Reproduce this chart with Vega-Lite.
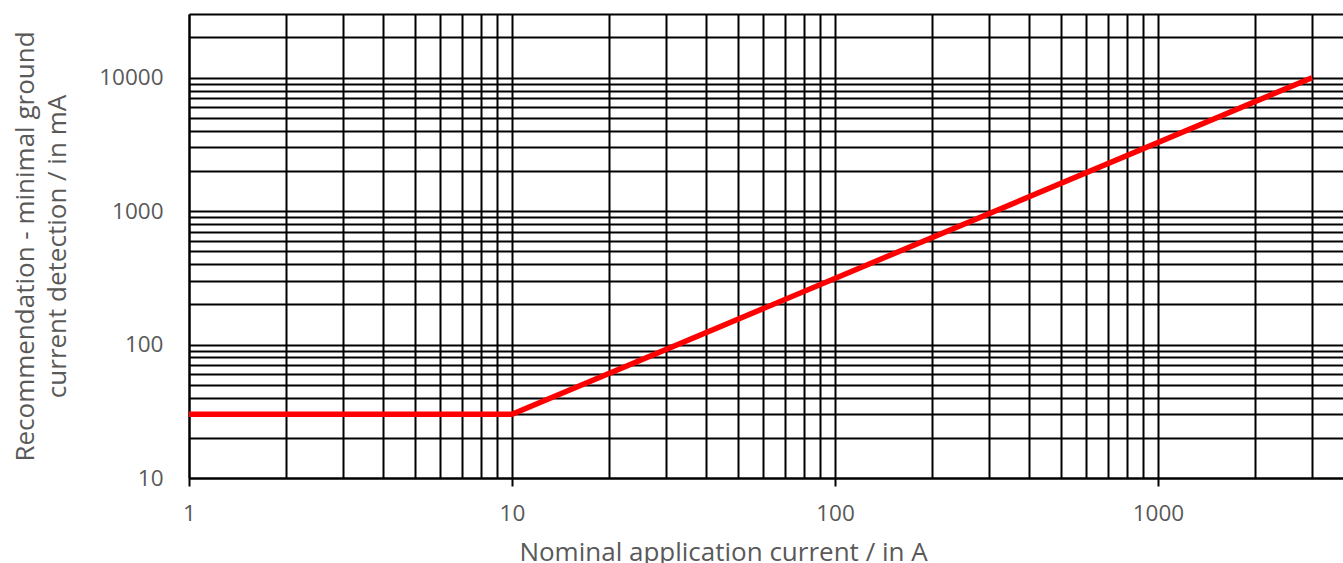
{
  "$schema": "https://vega.github.io/schema/vega-lite/v6.json",
  "width": 1154,
  "height": 464,
  "autosize": "none",
  "padding": {"left": 189, "top": 14, "right": 0, "bottom": 85},
  "background": "white",
  "config": {"view": {"stroke": null}, "font": "Open Sans"},
  "data": {"values": [
    {"current": 1, "detection": 30},
    {"current": 10, "detection": 30},
    {"current": 3000, "detection": 10000}
  ]},
  "mark": {"type": "line", "color": "#ff0000", "strokeWidth": 5.5, "clip": true},
  "encoding": {
    "x": {
      "field": "current", "type": "quantitative",
      "scale": {"type": "log", "domain": [1, 3741], "nice": false},
      "axis": {
        "values": [1,2,3,4,5,6,7,8,9,10,20,30,40,50,60,70,80,90,100,200,300,400,500,600,700,800,900,1000,2000,3000],
        "grid": true, "gridColor": "#000000", "gridWidth": 2, "gridOpacity": 1,
        "domain": true, "domainColor": "#000000", "domainWidth": 2,
        "ticks": true, "tickColor": "#000000", "tickWidth": 2, "tickSize": 8,
        "tickOpacity": {"condition": {"test": "indexof([1,10,100,1000], datum.value) >= 0", "value": 1}, "value": 0},
        "labelExpr": "indexof([1,10,100,1000], datum.value) >= 0 ? format(datum.value, 'd') : ''",
        "labelFontSize": 22.5, "labelColor": "#595959", "labelPadding": 16, "labelFont": "Open Sans",
        "labelOverlap": false, "labelFlush": false,
        "title": "Nominal application current / in A",
        "titleFontSize": 26, "titleColor": "#595959", "titleFontWeight": "normal", "titleFont": "Open Sans",
        "titleX": 534, "titleY": 82, "titleBaseline": "alphabetic", "titleAlign": "center", "titleAnchor": null
      }
    },
    "y": {
      "field": "detection", "type": "quantitative",
      "scale": {"type": "log", "domain": [10, 30000], "nice": false},
      "axis": {
        "values": [10,20,30,40,50,60,70,80,90,100,200,300,400,500,600,700,800,900,1000,2000,3000,4000,5000,6000,7000,8000,9000,10000,20000,30000],
        "grid": true, "gridColor": "#000000", "gridWidth": 2, "gridOpacity": 1,
        "domain": true, "domainColor": "#000000", "domainWidth": 2,
        "ticks": false, "tickSize": 0,
        "labelExpr": "indexof([10,100,1000,10000], datum.value) >= 0 ? format(datum.value, 'd') : ''",
        "labelFontSize": 22.5, "labelColor": "#595959", "labelPadding": 26, "labelFont": "Open Sans",
        "labelOverlap": false, "labelFlush": false,
        "title": ["Recommendation - minimal ground", "current detection / in mA"],
        "titleFontSize": 26, "titleColor": "#595959", "titleFontWeight": "normal", "titleFont": "Open Sans",
        "titleLineHeight": 32, "titleAngle": -90,
        "titleX": -164, "titleY": 232, "titleBaseline": "middle", "titleAlign": "center", "titleAnchor": null
      }
    }
  }
}
